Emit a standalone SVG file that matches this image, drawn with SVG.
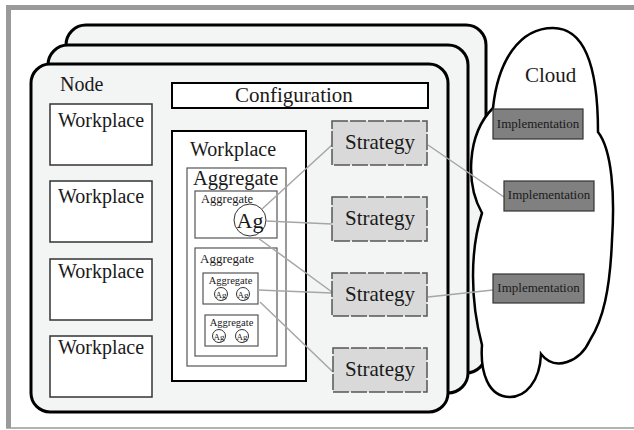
<svg xmlns="http://www.w3.org/2000/svg" width="634" height="430" viewBox="0 0 634 430">
<style>
text{font-family:"Liberation Serif","Times New Roman",serif;fill:#1a1a1a}
.card{fill:#f3f4f4;stroke:#000;stroke-width:3}
.wp{fill:#fff;stroke:#333;stroke-width:1.5}
.agg{fill:#fff;stroke:#555;stroke-width:1.2}
.strat{fill:#d9d9d9;stroke:#555;stroke-width:1.5;stroke-dasharray:16 2}
.impl{fill:#808080;stroke:#333;stroke-width:1.2}
.conn{fill:none;stroke:#a6a6a6;stroke-width:1.5}
.ag{fill:#fff;stroke:#333;stroke-width:1}
</style>
<rect x="0" y="0" width="634" height="430" fill="#fff"/>
<!-- frame -->
<rect x="6" y="5" width="628" height="5" fill="#9a9a9a"/>
<rect x="6" y="5" width="5" height="423" fill="#9a9a9a"/>
<line x1="6" y1="428" x2="634" y2="428" stroke="#9a9a9a" stroke-width="1.5"/>

<g id="node-back"><rect class="card" x="66" y="25" width="420" height="348" rx="20"/></g>
<g id="node-middle"><rect class="card" x="48" y="45" width="420" height="348" rx="20"/></g>

<g id="cloud">
<path d="M493,108 C498,60 520,28 553,28 C586,28 598,70 598,132 C612,150 615,195 612,240 C610,290 603,320 590,340 C580,362 555,372 541,354 C540,382 525,397 510,397 C488,397 480,372 482,345 C470,300 470,250 482,213 C466,185 466,135 493,108 Z" fill="#fff" stroke="#000" stroke-width="2.5"/>
<text x="525" y="82" font-size="21">Cloud</text>
</g>

<g id="node-front">
<rect class="card" x="31" y="64" width="417" height="348" rx="19"/>
<text x="60" y="91" font-size="20">Node</text>
</g>

<g id="configuration">
<rect x="172" y="83" width="256" height="25" fill="#fff" stroke="#000" stroke-width="2"/>
<text x="235" y="102" font-size="21">Configuration</text>
</g>

<g id="workplace-1"><rect class="wp" x="50" y="104" width="102" height="61"/><text x="58" y="127" font-size="20">Workplace</text></g>
<g id="workplace-2"><rect class="wp" x="50" y="181" width="102" height="61"/><text x="58" y="203" font-size="20">Workplace</text></g>
<g id="workplace-3"><rect class="wp" x="50" y="259" width="102" height="61"/><text x="58" y="278" font-size="20">Workplace</text></g>
<g id="workplace-4"><rect class="wp" x="50" y="336" width="102" height="61"/><text x="58" y="354" font-size="20">Workplace</text></g>

<g id="workplace-main">
<rect x="172" y="131" width="134" height="250" fill="#fff" stroke="#000" stroke-width="2"/>
<text x="190" y="156" font-size="20">Workplace</text>
</g>

<g id="aggregate-main">
<rect class="agg" x="187" y="168" width="99" height="198"/>
<text x="193" y="185" font-size="20.5">Aggregate</text>
</g>

<g id="aggregate-1">
<rect class="agg" x="195" y="191" width="82" height="47"/>
<text x="201" y="203" font-size="12.5">Aggregate</text>
<circle class="ag" cx="250" cy="220" r="16"/>
<text x="250" y="228" font-size="22" text-anchor="middle">Ag</text>
</g>

<g id="aggregate-2">
<rect class="agg" x="195" y="248" width="82" height="108"/>
<text x="200" y="263" font-size="13">Aggregate</text>
</g>

<g id="aggregate-2a">
<rect class="agg" x="203" y="273" width="55" height="31" stroke="#333"/>
<text x="230.5" y="284" font-size="10.5" text-anchor="middle">Aggregate</text>
<circle class="ag" cx="221" cy="294" r="6.5"/><text x="221" y="297.5" font-size="9" text-anchor="middle">Ag</text>
<circle class="ag" cx="243" cy="294" r="6.5"/><text x="243" y="297.5" font-size="9" text-anchor="middle">Ag</text>
</g>

<g id="aggregate-2b">
<rect class="agg" x="205" y="315" width="53" height="31" stroke="#333"/>
<text x="231.5" y="326" font-size="10.5" text-anchor="middle">Aggregate</text>
<circle class="ag" cx="219" cy="336" r="6.5"/><text x="219" y="339.5" font-size="9" text-anchor="middle">Ag</text>
<circle class="ag" cx="242" cy="336" r="6.5"/><text x="242" y="339.5" font-size="9" text-anchor="middle">Ag</text>
</g>

<g id="connectors">
<line class="conn" x1="262" y1="209" x2="332" y2="145"/>
<line class="conn" x1="266" y1="221" x2="332" y2="224"/>
<line class="conn" x1="258" y1="238" x2="332" y2="292"/>
<line class="conn" x1="258" y1="290" x2="332" y2="293"/>
<line class="conn" x1="260" y1="302" x2="333" y2="372"/>
<line class="conn" x1="428" y1="145" x2="504" y2="197" stroke="#888"/>
<line class="conn" x1="428" y1="297" x2="493" y2="290" stroke="#666" stroke-width="1"/>
</g>

<g id="strategy-1"><rect class="strat" x="332" y="121" width="95" height="44"/><text x="380" y="149" font-size="21" text-anchor="middle">Strategy</text></g>
<g id="strategy-2"><rect class="strat" x="332" y="197" width="95" height="44"/><text x="380" y="225" font-size="21" text-anchor="middle">Strategy</text></g>
<g id="strategy-3"><rect class="strat" x="332" y="273" width="95" height="43"/><text x="380" y="301" font-size="21" text-anchor="middle">Strategy</text></g>
<g id="strategy-4"><rect class="strat" x="333" y="348" width="94" height="44"/><text x="380" y="376" font-size="21" text-anchor="middle">Strategy</text></g>

<g id="implementation-1"><rect class="impl" x="493" y="109" width="90" height="30"/><text x="538" y="128" font-size="13" text-anchor="middle">Implementation</text></g>
<g id="implementation-2"><rect class="impl" x="504" y="181" width="90" height="30"/><text x="549" y="199" font-size="13" text-anchor="middle">Implementation</text></g>
<g id="implementation-3"><rect class="impl" x="493" y="274" width="91" height="29"/><text x="538.5" y="292" font-size="13" text-anchor="middle">Implementation</text></g>
</svg>
